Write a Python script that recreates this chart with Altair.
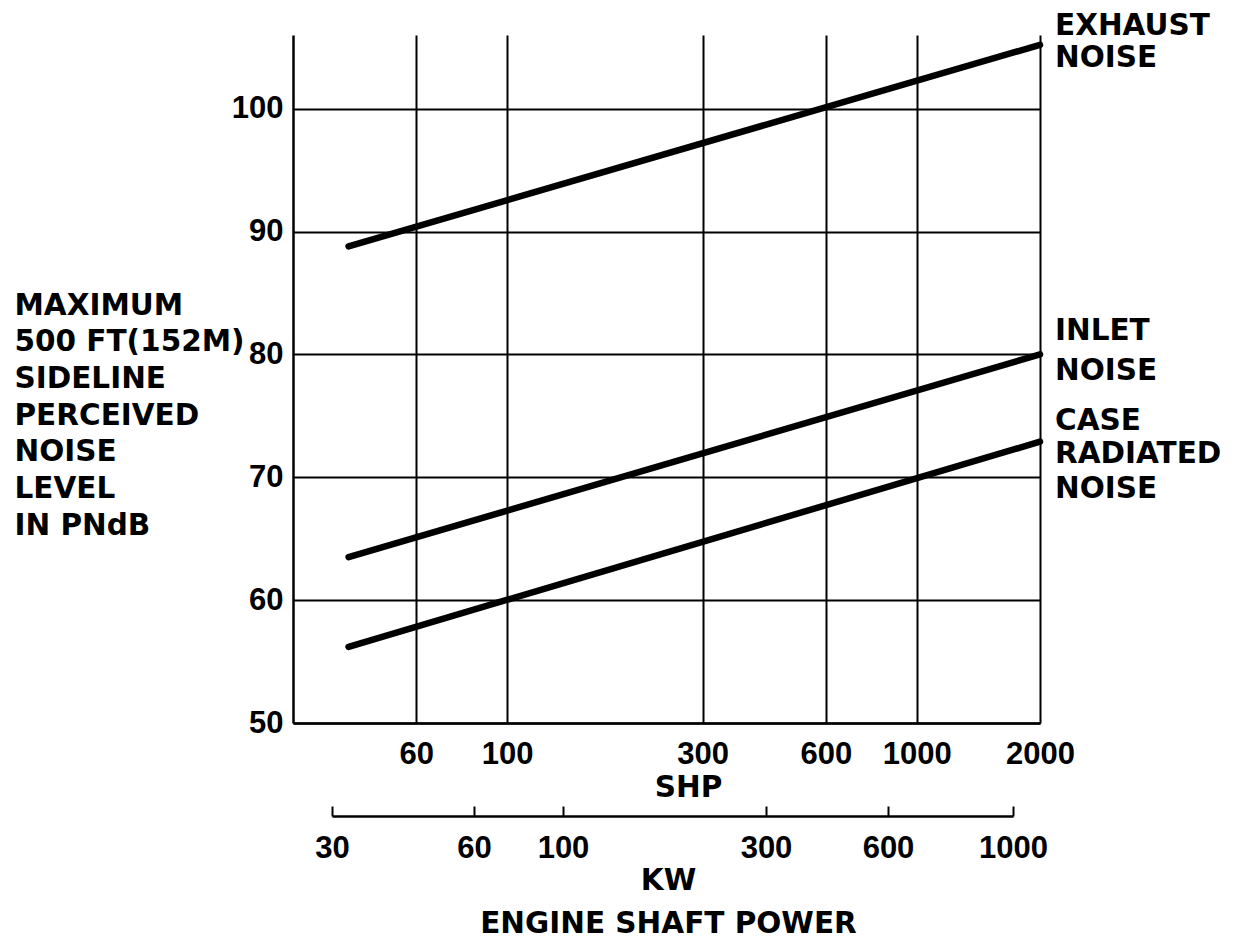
import altair as alt
import pandas as pd

# ---- data ----
SERIES = ["EXHAUST NOISE", "INLET NOISE", "CASE RADIATED NOISE"]
SHP_START = [41, 41, 41]
SHP_END = [2000, 2000, 2000]
PNDB_START = [88.8, 63.5, 56.2]
PNDB_END = [105.2, 80.0, 72.9]

SHP_TICKS = [60, 100, 300, 600, 1000, 2000]
PNDB_TICKS = [50, 60, 70, 80, 90, 100]
KW_TICKS = [30, 60, 100, 300, 600, 1000]

LABEL_SERIES = [0, 0, 1, 1, 2, 2, 2]
LABEL_LINES = ["EXHAUST", "NOISE", "INLET", "NOISE", "CASE", "RADIATED", "NOISE"]
LABEL_PNDB = [106.03, 103.42, 81.19, 77.93, 73.86, 71.17, 68.32]

Y_TITLE = ["MAXIMUM", "500 FT(152M)", "SIDELINE", "PERCEIVED", "NOISE", "LEVEL", "IN PNdB"]

NUM_FONT = "Liberation Sans"
NUM_FS = 31
TXT_FONT = "DejaVu Sans"
TXT_FS = 29.5
W, H = 747, 688

rows = []
for i, s in enumerate(SERIES):
    rows.append({"series": s, "shp": SHP_START[i], "pndb": PNDB_START[i]})
    rows.append({"series": s, "shp": SHP_END[i], "pndb": PNDB_END[i]})
lines_df = pd.DataFrame(rows)

labels_df = pd.DataFrame({
    "text": LABEL_LINES,
    "shp": [SHP_END[i] for i in LABEL_SERIES],
    "pndb": LABEL_PNDB,
})

kw_df = pd.DataFrame({"kw": KW_TICKS})

x_enc = alt.X(
    "shp:Q",
    scale=alt.Scale(type="log", domain=[30, 2000], nice=False),
    axis=alt.Axis(
        orient="bottom", values=SHP_TICKS, format="d",
        grid=True, gridColor="black", gridWidth=2, gridOpacity=1,
        domain=True, domainColor="black", domainWidth=2.5,
        ticks=False, tickSize=0, labelPadding=16, labelFlush=False,
        labelFont=NUM_FONT, labelFontSize=NUM_FS, labelFontWeight="bold", labelColor="black",
        title="SHP", titleFont=TXT_FONT, titleFontSize=TXT_FS, titleFontWeight="bold",
        titleColor="black", titleX=395, titleY=50, titleAlign="center",
        titleBaseline="top",
    ),
)
y_enc = alt.Y(
    "pndb:Q",
    scale=alt.Scale(domain=[50, 106], nice=False, zero=False),
    axis=alt.Axis(
        values=PNDB_TICKS, format="d",
        grid=True, gridColor="black", gridWidth=2, gridOpacity=1,
        domain=True, domainColor="black", domainWidth=2.5,
        ticks=False, tickSize=0, labelPadding=10, labelFlush=False,
        labelFont=NUM_FONT, labelFontSize=NUM_FS, labelFontWeight="bold", labelColor="black",
        title=Y_TITLE, titleFont=TXT_FONT, titleFontSize=TXT_FS, titleFontWeight="bold",
        titleColor="black", titleAngle=0, titleAlign="left", titleBaseline="top",
        titleX=-279, titleY=256, titleLineHeight=36.7,
    ),
)

lines = alt.Chart(lines_df).mark_line(color="black", strokeWidth=6.5, strokeCap="round").encode(
    x=x_enc, y=y_enc, detail="series:N"
)

labels = alt.Chart(labels_df).mark_text(
    align="left", baseline="alphabetic", dx=15, font=TXT_FONT, fontSize=TXT_FS,
    fontWeight="bold", color="black",
).encode(x=x_enc, y=y_enc, text="text:N")

main = alt.layer(lines, labels)

kw = alt.Chart(kw_df).mark_point(opacity=0).encode(
    x=alt.X(
        "kw:Q",
        scale=alt.Scale(type="log", domain=KW_TICKS, range=[39, 181, 270, 473, 595, 720]),
        axis=alt.Axis(
            orient="top", offset=-(H + 93), values=KW_TICKS, format="d",
            grid=False, domain=True, domainColor="black", domainWidth=2.5,
            ticks=True, tickSize=10, tickWidth=2, tickColor="black",
            labelPadding=-27, labelBaseline="top", labelFlush=False,
            labelFont=NUM_FONT, labelFontSize=NUM_FS, labelFontWeight="bold", labelColor="black",
            title=["KW", "ENGINE SHAFT POWER"], titleFont=TXT_FONT, titleFontSize=TXT_FS,
            titleFontWeight="bold", titleColor="black", titleX=375, titleY=50,
            titleAlign="center", titleBaseline="top", titleLineHeight=43,
        ),
    )
)

chart = alt.layer(main, kw).resolve_scale(x="independent").properties(
    width=W, height=H,
    autosize=alt.AutoSizeParams(type="none"),
    padding={"left": 285, "top": 27, "right": 185, "bottom": 215},
    background="white",
).configure_view(strokeWidth=0)

chart.save("out.html", embed_options={"renderer": "svg", "actions": False})
